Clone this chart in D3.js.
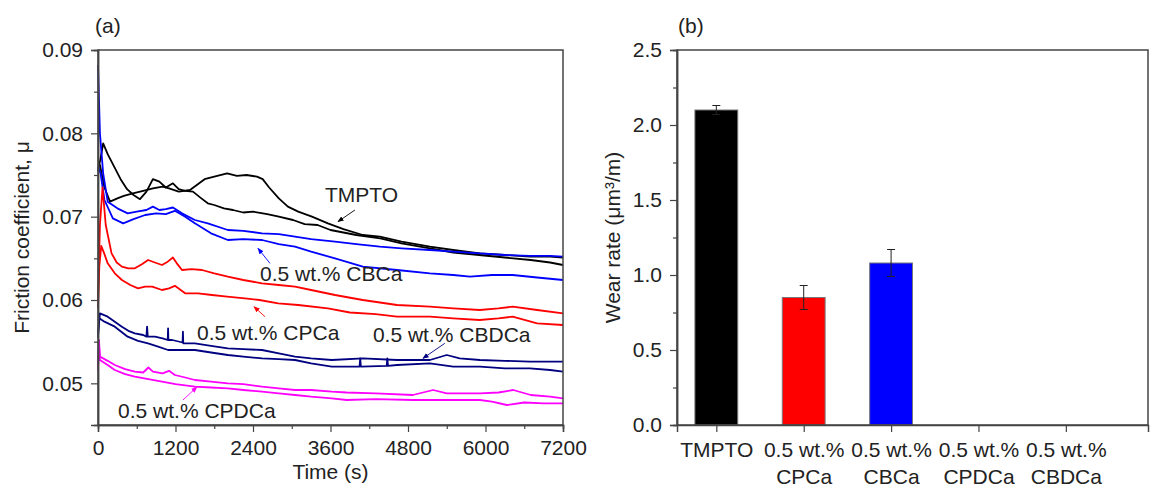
<!DOCTYPE html>
<html>
<head>
<meta charset="utf-8">
<script src="https://cdn.jsdelivr.net/npm/d3@7"></script>
<style>
  body { margin: 0; background: #fff; }
  text { font-family: "Liberation Sans", Arial, sans-serif; fill: #222; }
</style>
</head>
<body>
<div id="vis"></div>
<script>
// ---- data (a): friction coefficient vs time, two runs per lubricant ----
let tmptoRun1 = [[0,0.0755],[40,0.0770],[80,0.0788],[150,0.0775],[250,0.0760],[350,0.0745],[450,0.0733],[550,0.0726],[650,0.0721],[750,0.0730],[850,0.0745],[950,0.0742],[1050,0.0735],[1160,0.0740],[1250,0.0733],[1350,0.0731],[1470,0.0730],[1600,0.0722],[1700,0.0716],[1800,0.0714],[1950,0.0710],[2090,0.0708],[2250,0.0705],[2400,0.0706],[2620,0.0703],[2800,0.0700],[3020,0.0696],[3200,0.0691],[3400,0.0690],[3600,0.0684],[3800,0.0681],[4000,0.0678],[4370,0.0674],[4700,0.0668],[5140,0.0662],[5500,0.0657],[5900,0.0654],[6300,0.0651],[6700,0.0648],[7000,0.0645],[7200,0.0642]]
let tmptoRun2 = [[0,0.0760],[30,0.0762],[100,0.0735],[186,0.0718],[300,0.0722],[400,0.0725],[540,0.0728],[700,0.0731],[850,0.0734],[1000,0.0736],[1100,0.0734],[1250,0.0730],[1424,0.0732],[1530,0.0738],[1650,0.0745],[1800,0.0748],[2000,0.0752],[2150,0.0749],[2300,0.0750],[2461,0.0748],[2550,0.0745],[2650,0.0735],[2800,0.0722],[2940,0.0712],[3100,0.0706],[3313,0.0700],[3560,0.0692],[3800,0.0685],[4100,0.0678],[4365,0.0676],[4700,0.0670],[5139,0.0664],[5500,0.0660],[5913,0.0656],[6300,0.0654],[6687,0.0652],[7000,0.0652],[7200,0.0651]]
let cbcaRun1 = [[0,0.0882],[30,0.0800],[80,0.0752],[150,0.0718],[300,0.0710],[460,0.0704],[600,0.0706],[750,0.0708],[850,0.0712],[950,0.0708],[1050,0.0709],[1160,0.0711],[1300,0.0704],[1500,0.0696],[1700,0.0692],[2010,0.0684],[2250,0.0683],[2540,0.0680],[2800,0.0679],[3050,0.0676],[3300,0.0673],[3670,0.0670],[4000,0.0667],[4365,0.0664],[4700,0.0662],[5139,0.0660],[5500,0.0658],[5913,0.0656],[6300,0.0654],[6687,0.0653],[7000,0.0653],[7200,0.0652]]
let cbcaRun2 = [[0,0.0760],[40,0.0752],[100,0.0720],[230,0.0698],[390,0.0692],[550,0.0697],[730,0.0702],[900,0.0704],[1050,0.0703],[1190,0.0707],[1350,0.0700],[1500,0.0692],[1750,0.0680],[2010,0.0672],[2250,0.0673],[2540,0.0672],[2800,0.0667],[3050,0.0664],[3300,0.0658],[3670,0.0650],[4100,0.0640],[4630,0.0636],[5140,0.0632],[5500,0.0630],[5760,0.0628],[6100,0.0630],[6420,0.0630],[6800,0.0627],[7200,0.0624]]
let cpcaRun1 = [[0,0.0600],[30,0.0690],[70,0.0735],[120,0.0690],[210,0.0656],[290,0.0645],[370,0.0640],[470,0.0638],[570,0.0638],[680,0.0643],[775,0.0648],[880,0.0645],[990,0.0642],[1080,0.0646],[1160,0.0651],[1230,0.0643],[1300,0.0636],[1450,0.0637],[1610,0.0636],[1800,0.0632],[2010,0.0628],[2250,0.0624],[2540,0.0620],[2800,0.0618],[3050,0.0616],[3300,0.0612],[3670,0.0606],[4100,0.0600],[4630,0.0594],[5140,0.0592],[5500,0.0590],[5910,0.0588],[6200,0.0590],[6420,0.0592],[6800,0.0588],[7200,0.0584]]
let cpcaRun2 = [[0,0.0590],[20,0.0640],[50,0.0665],[100,0.0655],[150,0.0644],[260,0.0632],[370,0.0624],[500,0.0618],[620,0.0614],[730,0.0616],[840,0.0616],[990,0.0612],[1100,0.0614],[1190,0.0617],[1350,0.0608],[1550,0.0608],[1765,0.0606],[2000,0.0604],[2275,0.0602],[2500,0.0600],[2790,0.0596],[3100,0.0594],[3560,0.0590],[3900,0.0585],[4300,0.0583],[4630,0.0580],[5140,0.0580],[5500,0.0578],[5910,0.0576],[6200,0.0578],[6420,0.0580],[6800,0.0572],[7200,0.0570]]
let cbdcaRun1 = [[0,0.0560],[30,0.0584],[150,0.0580],[260,0.0574],[370,0.0568],[470,0.0563],[570,0.0560],[700,0.0558],[750,0.0556],[760,0.0568],[770,0.0556],[880,0.0556],[1000,0.0554],[1080,0.0552],[1085,0.0566],[1090,0.0552],[1150,0.0552],[1310,0.0549],[1315,0.0562],[1320,0.0548],[1500,0.0548],[1750,0.0545],[2010,0.0542],[2250,0.0541],[2540,0.0540],[2800,0.0536],[3050,0.0532],[3300,0.0530],[3620,0.0528],[4100,0.0530],[4630,0.0528],[5140,0.0528],[5400,0.0534],[5600,0.0530],[5913,0.0528],[6300,0.0527],[6687,0.0526],[7200,0.0526]]
let cbdcaRun2 = [[0,0.0555],[20,0.0578],[100,0.0574],[260,0.0568],[460,0.0556],[620,0.0551],[775,0.0548],[930,0.0544],[1085,0.0540],[1300,0.0540],[1500,0.0540],[1750,0.0537],[2010,0.0534],[2250,0.0532],[2540,0.0530],[2800,0.0529],[3050,0.0528],[3300,0.0524],[3620,0.0520],[4050,0.0520],[4060,0.0530],[4070,0.0520],[4470,0.0521],[4480,0.0530],[4490,0.0521],[4630,0.0522],[5140,0.0524],[5500,0.0520],[5913,0.0520],[6300,0.0518],[6687,0.0518],[7000,0.0516],[7200,0.0514]]
let cpdcaRun1 = [[0,0.0515],[15,0.0552],[30,0.0532],[150,0.0527],[260,0.0522],[420,0.0517],[570,0.0514],[700,0.0513],[780,0.0519],[850,0.0514],[1000,0.0512],[1100,0.0515],[1190,0.0510],[1350,0.0507],[1500,0.0504],[1750,0.0502],[2010,0.0500],[2250,0.0499],[2540,0.0496],[2800,0.0494],[3050,0.0492],[3300,0.0492],[3620,0.0490],[3850,0.0489],[4300,0.0488],[4875,0.0486],[5190,0.0492],[5400,0.0488],[5913,0.0488],[6200,0.0489],[6430,0.0492],[6700,0.0486],[7000,0.0484],[7200,0.0482]]
let cpdcaRun2 = [[0,0.0520],[15,0.0545],[30,0.0528],[150,0.0522],[260,0.0516],[420,0.0511],[570,0.0508],[780,0.0505],[990,0.0502],[1200,0.0499],[1500,0.0496],[1750,0.0495],[2010,0.0494],[2250,0.0492],[2540,0.0490],[2800,0.0488],[3050,0.0486],[3300,0.0484],[3620,0.0482],[3850,0.0480],[4300,0.0481],[4875,0.0480],[5400,0.0480],[5913,0.0480],[6100,0.0478],[6330,0.0474],[6600,0.0477],[6900,0.0476],[7200,0.0476]]

let timeTicks = [0, 1200, 2400, 3600, 4800, 6000, 7200]
let muTicks = [0.05, 0.06, 0.07, 0.08, 0.09]

// annotations (a): label start, arrow from -> to, all in data units
let notes = [
  { text: 'TMPTO', color: '#000000', at: [3514, 0.0718], from: [3978, 0.0708], to: [3715, 0.0694] },
  { text: '0.5 wt.% CBCa', color: '#0000ff', at: [2508, 0.0623], from: [2663, 0.0644], to: [2477, 0.0662] },
  { text: '0.5 wt.% CPCa', color: '#ff0000', at: [1533, 0.0552], from: [2585, 0.0580], to: [2415, 0.0592] },
  { text: '0.5 wt.% CBDCa', color: '#000080', at: [4257, 0.0550], from: [5370, 0.0548], to: [5031, 0.0530] },
  { text: '0.5 wt.% CPDCa', color: '#ff00ff', at: [310, 0.0458], from: [1316, 0.0480], to: [1532, 0.04956] }
]

// ---- data (b): wear rate ----
let lubricants = [['TMPTO'], ['0.5 wt.%', 'CPCa'], ['0.5 wt.%', 'CBCa'], ['0.5 wt.%', 'CPDCa'], ['0.5 wt.%', 'CBDCa']]
let wearRate = [2.10, 0.85, 1.08, null, null]
let wearErr = [0.03, 0.08, 0.09, null, null]
let barColors = ['#000000', '#ff0000', '#0000ff', '#ff00ff', '#000080']
let wearTicks = [0, 0.5, 1.0, 1.5, 2.0, 2.5]

let W = 1163, H = 490
let svg = d3.select('#vis').append('svg')
  .attr('width', W).attr('height', H)
  .attr('viewBox', [0, 0, W, H].join(' '))

let fs = 21

function styleAxis(g) {
  g.selectAll('.domain').attr('stroke', '#444').attr('stroke-width', 1.5)
  g.selectAll('.tick line').attr('stroke', '#444').attr('stroke-width', 1.2)
  g.selectAll('.tick text').style('font-size', fs + 'px').attr('fill', '#222')
}

// ============ panel (a) ============
let x = d3.scaleLinear().domain([0, 7200]).range([98, 563])
let y = d3.scaleLinear().domain([0.045, 0.09]).range([425, 50])

let runs = [
  [tmptoRun1, '#000000'], [tmptoRun2, '#000000'],
  [cbcaRun1, '#0000ff'], [cbcaRun2, '#0000ff'],
  [cpcaRun1, '#ff0000'], [cpcaRun2, '#ff0000'],
  [cbdcaRun1, '#000080'], [cbdcaRun2, '#000080'],
  [cpdcaRun1, '#ff00ff'], [cpdcaRun2, '#ff00ff']
]
let line = d3.line().x(d => x(d[0])).y(d => y(d[1]))

// draw the noisy runs
svg.append('g').selectAll('path').data(runs).join('path')
  .attr('d', d => line(d[0]))
  .attr('fill', 'none')
  .attr('stroke', d => d[1])
  .attr('stroke-width', 1.8)
  .attr('stroke-linejoin', 'round')

// frame
svg.append('rect')
  .attr('x', x(0)).attr('y', y(0.09))
  .attr('width', x(7200) - x(0)).attr('height', y(0.045) - y(0.09))
  .attr('fill', 'none').attr('stroke', '#444').attr('stroke-width', 1.5)

let gxa = svg.append('g').attr('transform', `translate(0,${y(0.045)})`)
  .call(d3.axisBottom(x).tickValues(timeTicks).tickSize(7).tickPadding(8).tickFormat(d3.format('d')))
styleAxis(gxa)
let gxaMinor = svg.append('g').attr('transform', `translate(0,${y(0.045)})`)
  .call(d3.axisBottom(x).tickValues(timeTicks.slice(1).map(d => d - 600)).tickSize(4).tickFormat(''))
styleAxis(gxaMinor)

let gya = svg.append('g').attr('transform', `translate(${x(0)},0)`)
  .call(d3.axisLeft(y).tickValues(muTicks).tickSize(7).tickPadding(8).tickFormat(d3.format('.2f')))
styleAxis(gya)
let gyaMinor = svg.append('g').attr('transform', `translate(${x(0)},0)`)
  .call(d3.axisLeft(y).tickValues(muTicks.slice(0, -1).map(d => d + 0.005)).tickSize(4).tickFormat(''))
styleAxis(gyaMinor)

svg.append('text').attr('x', (x(0) + x(7200)) / 2).attr('y', 479)
  .attr('text-anchor', 'middle').style('font-size', fs + 'px').text('Time (s)')
svg.append('text').attr('transform', `translate(29,${(y(0.045) + y(0.09)) / 2}) rotate(-90)`)
  .attr('text-anchor', 'middle').style('font-size', fs + 'px').text('Friction coefficient, μ')
svg.append('text').attr('x', 95).attr('y', 33).style('font-size', fs + 'px').text('(a)')

// annotation arrows
let defs = svg.append('defs')
notes.forEach((n, i) => {
  defs.append('marker').attr('id', 'arr' + i)
    .attr('viewBox', '0 0 10 10').attr('refX', 9).attr('refY', 5)
    .attr('markerWidth', 7).attr('markerHeight', 7).attr('orient', 'auto')
    .append('path').attr('d', 'M0,1 L10,5 L0,9 z').attr('fill', n.color)
})
svg.append('g').selectAll('line').data(notes).join('line')
  .attr('x1', d => x(d.from[0])).attr('y1', d => y(d.from[1]))
  .attr('x2', d => x(d.to[0])).attr('y2', d => y(d.to[1]))
  .attr('stroke', d => d.color).attr('stroke-width', 0.9)
  .attr('marker-end', (d, i) => `url(#arr${i})`)
svg.append('g').selectAll('text').data(notes).join('text')
  .attr('x', d => x(d.at[0])).attr('y', d => y(d.at[1]))
  .style('font-size', fs + 'px')
  .text(d => d.text)

// ============ panel (b) ============
let xb = d3.scaleLinear().domain([0.55, 5.94]).range([677, 1148])
let yb = d3.scaleLinear().domain([0, 2.5]).range([425, 50])
let pos = lubricants.map((d, i) => i + 1)
let barHalf = 0.245

let bars = lubricants.map((d, i) => ({ i: i + 1, v: wearRate[i], e: wearErr[i], c: barColors[i] }))
  .filter(d => d.v != null)

svg.append('g').selectAll('rect').data(bars).join('rect')
  .attr('x', d => xb(d.i - barHalf))
  .attr('width', d => xb(d.i + barHalf) - xb(d.i - barHalf))
  .attr('y', d => yb(d.v))
  .attr('height', d => yb(0) - yb(d.v))
  .attr('fill', d => d.c).attr('stroke', '#777').attr('stroke-width', 1)

// error bars
let eb = svg.append('g').attr('stroke', '#222').attr('stroke-width', 1)
bars.forEach(b => {
  eb.append('line').attr('x1', xb(b.i)).attr('x2', xb(b.i)).attr('y1', yb(b.v - b.e)).attr('y2', yb(b.v + b.e))
  ;[b.v - b.e, b.v + b.e].forEach(v => {
    eb.append('line').attr('x1', xb(b.i) - 4).attr('x2', xb(b.i) + 4).attr('y1', yb(v)).attr('y2', yb(v))
  })
})

svg.append('rect')
  .attr('x', xb(0.55)).attr('y', yb(2.5))
  .attr('width', xb(5.94) - xb(0.55)).attr('height', yb(0) - yb(2.5))
  .attr('fill', 'none').attr('stroke', '#444').attr('stroke-width', 1.5)

let gxb = svg.append('g').attr('transform', `translate(0,${yb(0)})`)
  .call(d3.axisBottom(xb).tickValues(pos).tickSize(7).tickFormat(''))
styleAxis(gxb)
gxb.selectAll('.tick').each(function(t) {
  let label = d3.select(this).append('text').attr('text-anchor', 'middle').style('font-size', fs + 'px').attr('fill', '#222')
  lubricants[t - 1].forEach((s, k) => {
    label.append('tspan').attr('x', 0).attr('y', 32 + k * 27).text(s)
  })
})

let gyb = svg.append('g').attr('transform', `translate(${xb(0.55)},0)`)
  .call(d3.axisLeft(yb).tickValues(wearTicks).tickSize(7).tickPadding(8).tickFormat(d3.format('.1f')))
styleAxis(gyb)
let gybMinor = svg.append('g').attr('transform', `translate(${xb(0.55)},0)`)
  .call(d3.axisLeft(yb).tickValues(wearTicks.slice(0, -1).map(b => b + 0.25)).tickSize(4).tickFormat(''))
styleAxis(gybMinor)

svg.append('text').attr('transform', `translate(620,${(yb(0) + yb(2.5)) / 2}) rotate(-90)`)
  .attr('text-anchor', 'middle').style('font-size', fs + 'px').text('Wear rate (μm³/m)')
svg.append('text').attr('x', 678).attr('y', 33).style('font-size', fs + 'px').text('(b)')
</script>
</body>
</html>
